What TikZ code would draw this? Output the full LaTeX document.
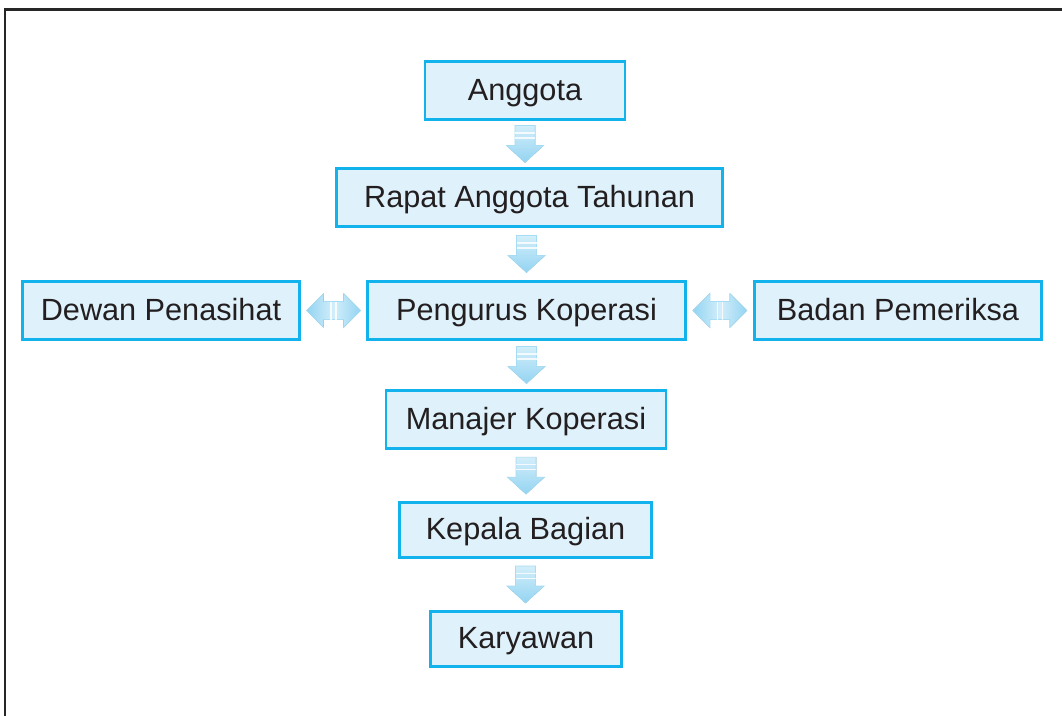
\documentclass[tikz,border=0pt]{standalone}
\usepackage{fontspec}
\setmainfont{Liberation Sans}
\usetikzlibrary{calc}
\definecolor{boxline}{HTML}{12B3EC}
\definecolor{boxfill}{HTML}{DFF1FB}
\definecolor{txt}{HTML}{231F20}
\definecolor{arrlight}{HTML}{D3EEFA}
\definecolor{arrdark}{HTML}{93D4F2}
\definecolor{arredge}{HTML}{A6DCF4}
\tikzset{
  orgbox/.style={draw=boxline, line width=2.2pt, fill=boxfill, text=txt,
    font=\fontsize{23}{27}\selectfont, inner sep=0pt, anchor=center,
    text height=14.4pt, text depth=0pt},
  blkarrow/.style={top color=arrlight, bottom color=arrdark, draw=arredge, line width=0.5pt},
  blkarrowh/.style={left color=arrdark, right color=arrdark, middle color=arrlight, draw=arredge, line width=0.5pt},
  stripe/.style={draw=white, line width=1.1pt, opacity=0.8}
}
\newcommand\vblk[1]{%
  \begin{scope}[shift={(#1)}]
    \fill[blkarrow] (-10,-18.5) -- (10,-18.5) -- (10,1.5) -- (18.5,1.5) -- (0,18.5) -- (-18.5,1.5) -- (-10,1.5) -- cycle;
    \draw[stripe] (-10,-11) -- (10,-11);
    \draw[stripe] (-10,-6) -- (10,-6);
  \end{scope}}
\newcommand\hblk[1]{%
  \begin{scope}[shift={(#1)}]
    \fill[blkarrowh] (-27,0) -- (-10,-17) -- (-10,-9) -- (10,-9) -- (10,-17) -- (27,0) -- (10,17) -- (10,9) -- (-10,9) -- (-10,17) -- cycle;
    \draw[stripe] (-2.5,-9) -- (-2.5,9);
    \draw[stripe] (2.5,-9) -- (2.5,9);
  \end{scope}}
\begin{document}
\begin{tikzpicture}[x=0.75pt, y=-0.75pt]
\useasboundingbox (0,0) rectangle (1062,716);
\clip (0,0) rectangle (1062,716);
\fill[white] (0,0) rectangle (1062,716);
\draw[line width=1.6pt, draw=black!85] (1075,9.5) -- (5,9.5) -- (5,730);

\node[orgbox, minimum width=150pt, minimum height=43.5pt] (ang) at (525,90.5) {Anggota};
\node[orgbox, minimum width=290pt, minimum height=43.5pt] (rat) at (529.5,197.5) {Rapat Anggota Tahunan};
\node[orgbox, minimum width=207.5pt, minimum height=43.5pt] (dew) at (161,310.5) {Dewan Penasihat};
\node[orgbox, minimum width=238pt, minimum height=43.5pt] (pen) at (526.5,310.5) {Pengurus Koperasi};
\node[orgbox, minimum width=215pt, minimum height=43.5pt] (bad) at (898,310.5) {Badan Pemeriksa};
\node[orgbox, minimum width=210pt, minimum height=43.5pt] (man) at (526,419.5) {Manajer Koperasi};
\node[orgbox, minimum width=188.5pt, minimum height=41pt] (kep) at (525.5,530) {Kepala Bagian};
\node[orgbox, minimum width=143pt, minimum height=41pt] (kar) at (526,639) {Karyawan};

\vblk{$(ang.south)!0.5!(ang.south |- rat.north)$}
\vblk{$(pen.north |- rat.south)!0.5!(pen.north)$}
\vblk{$(pen.south)!0.5!(pen.south |- man.north)$}
\vblk{$(man.south)!0.5!(man.south |- kep.north)$}
\vblk{$(kep.south)!0.5!(kep.south |- kar.north)$}
\hblk{$(dew.east)!0.5!(pen.west)$}
\hblk{$(pen.east)!0.5!(bad.west)$}
\end{tikzpicture}
\end{document}
